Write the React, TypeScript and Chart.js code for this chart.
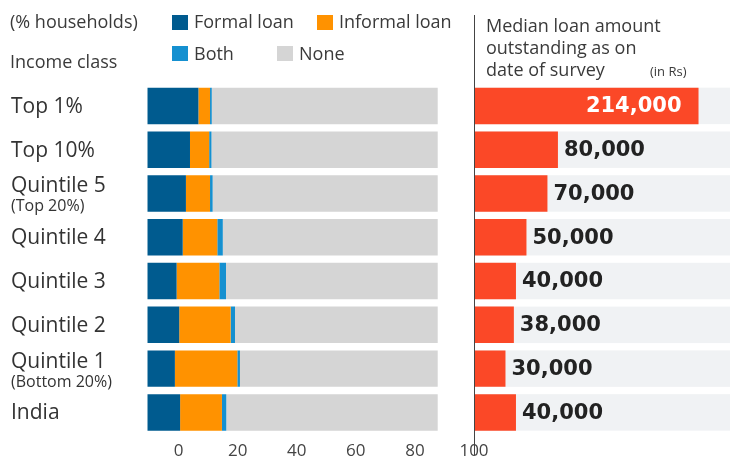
import React, { useEffect, useRef } from "react";
import { Chart, registerables } from "chart.js";

Chart.register(...registerables);

// ---------------- data ----------------
const CATEGORIES = ["Top 1%", "Top 10%", "Quintile 5", "Quintile 4", "Quintile 3", "Quintile 2", "Quintile 1", "India"];
const SUB_LABELS = ["", "", "(Top 20%)", "", "", "", "(Bottom 20%)", ""];
const FORMAL = [17.6, 14.7, 13.3, 12.2, 10.1, 11.0, 9.5, 11.3];
const INFORMAL = [4.0, 6.6, 8.3, 11.9, 14.7, 17.7, 21.5, 14.4];
const BOTH = [0.6, 0.8, 0.9, 1.9, 2.3, 1.5, 0.9, 1.5];
const NONE = [77.8, 77.9, 77.5, 74.0, 72.9, 69.8, 68.1, 72.8];
const MEDIAN_LOAN = [214000, 80000, 70000, 50000, 40000, 38000, 30000, 40000];
const PCT_TICKS = [0, 20, 40, 60, 80, 100];
const SERIES_NAMES = ["Formal loan", "Informal loan", "Both", "None"];
const RIGHT_TITLE = ["Median loan amount", "outstanding as on", "date of survey"];
const RIGHT_UNIT = "(in Rs)";

// ---------------- style ----------------
const COLORS = ["#005b8f", "#ff9200", "#1590d0", "#d5d5d5"];
const RED = "#fb4827";
const STRIPE = "#f0f2f4";
const TEXT = "#3a3a3a";
const SANS = "'Open Sans', 'Noto Sans', sans-serif";
const VALUE_FONT = "bold 21px 'DejaVu Sans', sans-serif";

const TOP = 84;
const AXIS_H = 28.7;
const BAR_PCT = 0.833;

const leftDecor = {
  id: "leftDecor",
  afterDraw(chart: any) {
    const ctx = chart.ctx;
    const y = chart.scales.y;
    ctx.save();
    ctx.fillStyle = TEXT;
    ctx.textAlign = "left";
    ctx.textBaseline = "alphabetic";
    ctx.font = `18px ${SANS}`;
    ctx.fillText("(% households)", 10, 28);
    ctx.fillText("Income class", 10, 68);

    // legend (2 x 2)
    const legendPos = [
      [172, 15, 194, 28],
      [317, 15, 339, 28],
      [172, 46, 194, 60],
      [277, 46, 299, 60],
    ];
    SERIES_NAMES.forEach((name, i) => {
      const [sx, sy, tx, ty] = legendPos[i];
      ctx.fillStyle = COLORS[i];
      ctx.fillRect(sx, sy, 16, 15);
      ctx.fillStyle = TEXT;
      ctx.font = `18px ${SANS}`;
      ctx.fillText(name, tx, ty);
    });

    // category labels
    CATEGORIES.forEach((cat, i) => {
      const yc = y.getPixelForValue(i);
      ctx.fillStyle = "#333";
      if (SUB_LABELS[i]) {
        ctx.font = `21px ${SANS}`;
        ctx.fillText(cat, 11, yc - 1);
        ctx.font = `16px ${SANS}`;
        ctx.fillText(SUB_LABELS[i], 11, yc + 18);
      } else {
        ctx.font = `21px ${SANS}`;
        ctx.fillText(cat, 11, yc + 7);
      }
    });
    ctx.restore();
  },
};

const rightDecor = {
  id: "rightDecor",
  beforeDatasetsDraw(chart: any) {
    const ctx = chart.ctx;
    const { left, right } = chart.chartArea;
    const meta = chart.getDatasetMeta(0);
    ctx.save();
    ctx.fillStyle = STRIPE;
    meta.data.forEach((el: any) => {
      const { y, height } = el.getProps(["y", "height"], true);
      ctx.fillRect(left, y - height / 2, right - left, height);
    });
    ctx.restore();
  },
  afterDraw(chart: any) {
    const ctx = chart.ctx;
    const { right } = chart.chartArea;
    const meta = chart.getDatasetMeta(0);
    ctx.save();
    // values
    ctx.font = VALUE_FONT;
    ctx.textBaseline = "middle";
    meta.data.forEach((el: any, i: number) => {
      const { x, y } = el.getProps(["x", "y"], true);
      const txt = MEDIAN_LOAN[i].toLocaleString("en-US");
      const w = ctx.measureText(txt).width;
      if (x + 6 + w > right) {
        ctx.fillStyle = "#ffffff";
        ctx.textAlign = "right";
        ctx.fillText(txt, x - 17, y + 1);
      } else {
        ctx.fillStyle = "#222";
        ctx.textAlign = "left";
        ctx.fillText(txt, x + 6, y + 1);
      }
    });
    // header
    ctx.textBaseline = "alphabetic";
    ctx.textAlign = "left";
    ctx.fillStyle = TEXT;
    ctx.font = `18px ${SANS}`;
    RIGHT_TITLE.forEach((line, i) => ctx.fillText(line, 12, 32 + i * 22));
    ctx.font = `13px ${SANS}`;
    ctx.fillText(RIGHT_UNIT, 176, 76);
    // divider line
    ctx.strokeStyle = "#444";
    ctx.lineWidth = 1;
    ctx.beginPath();
    ctx.moveTo(0.5, 15);
    ctx.lineTo(0.5, 455);
    ctx.stroke();
    ctx.restore();
  },
};

export default function App() {
  const leftRef = useRef<HTMLCanvasElement>(null);
  const rightRef = useRef<HTMLCanvasElement>(null);

  useEffect(() => {
    const series = [FORMAL, INFORMAL, BOTH, NONE];
    const left = new Chart(leftRef.current!, {
      type: "bar",
      data: {
        labels: CATEGORIES,
        datasets: series.map((d, i) => ({
          label: SERIES_NAMES[i],
          data: d,
          backgroundColor: COLORS[i],
          xAxisID: "x",
          barPercentage: BAR_PCT,
          categoryPercentage: 1,
        })),
      },
      options: {
        indexAxis: "y",
        responsive: false,
        animation: false,
        events: [],
        layout: { padding: { left: 147.3, right: 26, top: TOP, bottom: 0 } },
        plugins: { legend: { display: false }, tooltip: { enabled: false } },
        scales: {
          y: { display: false, stacked: true },
          x: { display: false, stacked: true, min: 0, max: 112.5 },
          x2: {
            type: "linear",
            position: "bottom",
            min: -10.6,
            max: 100,
            grid: { display: false, drawTicks: false },
            border: { display: false },
            ticks: { font: { family: SANS, size: 17 }, color: "#444", padding: 7 },
            afterBuildTicks: (s: any) => {
              s.ticks = PCT_TICKS.map((v) => ({ value: v }));
            },
            afterFit: (s: any) => {
              s.height = AXIS_H;
            },
          },
        },
      } as any,
      plugins: [leftDecor],
    });

    const right = new Chart(rightRef.current!, {
      type: "bar",
      data: {
        labels: CATEGORIES,
        datasets: [
          {
            label: "Median loan amount",
            data: MEDIAN_LOAN,
            backgroundColor: RED,
            barPercentage: BAR_PCT,
            categoryPercentage: 1,
          },
        ],
      },
      options: {
        indexAxis: "y",
        responsive: false,
        animation: false,
        events: [],
        layout: { padding: { left: 0, right: 0, top: TOP, bottom: AXIS_H } },
        plugins: { legend: { display: false }, tooltip: { enabled: false } },
        scales: {
          y: { display: false },
          x: { display: false, min: 0, max: 244000 },
        },
      } as any,
      plugins: [rightDecor],
    });

    return () => {
      left.destroy();
      right.destroy();
    };
  }, []);

  return (
    <div style={{ position: "fixed", left: 0, top: 0, width: 730, height: 463, background: "#fff", overflow: "hidden" }}>
      <canvas ref={leftRef} width={500} height={463} style={{ position: "absolute", left: 0, top: 0 }} />
      <canvas ref={rightRef} width={256} height={463} style={{ position: "absolute", left: 474, top: 0 }} />
    </div>
  );
}
